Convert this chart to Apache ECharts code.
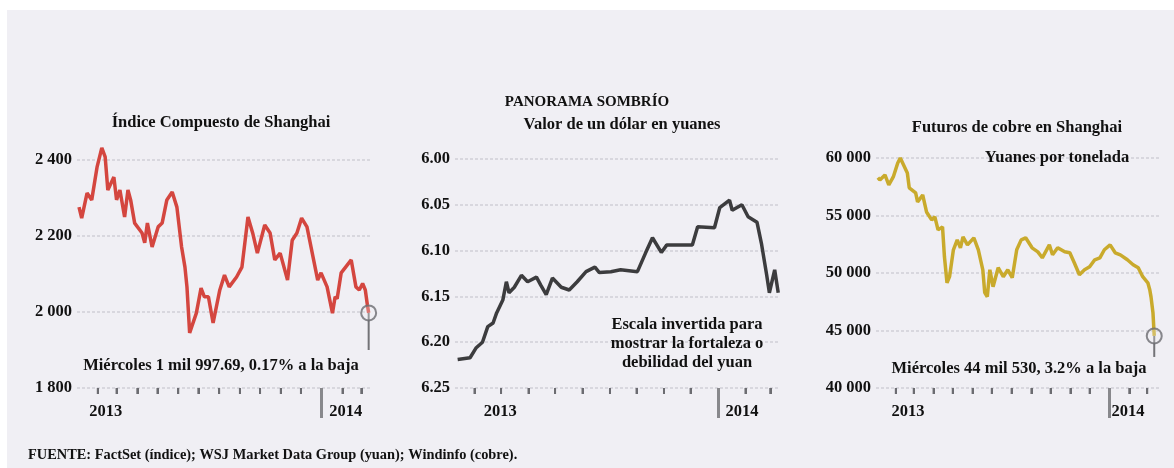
<!DOCTYPE html>
<html><head><meta charset="utf-8">
<script src="https://cdn.jsdelivr.net/npm/echarts@6/dist/echarts.min.js"></script>
<style>html,body{margin:0;padding:0;background:#fff}#c{width:1174px;height:468px}</style>
</head><body><div id="c"></div><script>
// ---------- Shanghai Composite ----------
const shDates = ['2013-01-04','2013-01-08','2013-01-16','2013-01-23','2013-01-31','2013-02-07','2013-02-12','2013-02-16','2013-02-25','2013-03-01','2013-03-06','2013-03-13','2013-03-18','2013-03-22','2013-03-28','2013-04-08','2013-04-12','2013-04-16','2013-04-23','2013-05-02','2013-05-08','2013-05-15','2013-05-23','2013-05-30','2013-06-06','2013-06-11','2013-06-14','2013-06-18','2013-06-28','2013-07-05','2013-07-10','2013-07-16','2013-07-23','2013-08-02','2013-08-09','2013-08-16','2013-08-27','2013-09-04','2013-09-13','2013-09-20','2013-09-27','2013-10-08','2013-10-16','2013-10-23','2013-10-31','2013-11-11','2013-11-18','2013-11-25','2013-12-02','2013-12-10','2013-12-19','2013-12-26','2013-12-31','2014-01-09','2014-01-17','2014-01-21','2014-01-24','2014-01-30','2014-02-14','2014-02-21','2014-02-26','2014-03-03','2014-03-07','2014-03-10','2014-03-12'];
const shValues = [2276,2247,2313,2295,2382,2432,2408,2321,2355,2295,2321,2250,2321,2295,2234,2208,2182,2234,2171,2224,2234,2295,2316,2276,2171,2118,2066,1945,1997,2063,2040,2040,1971,2058,2097,2066,2092,2118,2250,2208,2155,2229,2208,2137,2155,2084,2189,2208,2247,2224,2145,2084,2103,2066,1997,2040,2035,2103,2137,2066,2058,2075,2058,2020,1997.69];
const shPinBottom = 1900;
const shYTicks = {min:1800, max:2400, interval:200};

// ---------- USD / CNY ----------
const fxDates = ['2013-03-13','2013-03-27','2013-04-03','2013-04-10','2013-04-16','2013-04-22','2013-04-26','2013-05-03','2013-05-07','2013-05-10','2013-05-16','2013-05-24','2013-05-31','2013-06-10','2013-06-15','2013-06-21','2013-06-28','2013-07-08','2013-07-17','2013-07-26','2013-08-05','2013-08-15','2013-08-20','2013-09-02','2013-09-13','2013-10-02','2013-10-11','2013-10-19','2013-10-29','2013-11-04','2013-12-03','2013-12-09','2013-12-28','2014-01-03','2014-01-14','2014-01-17','2014-01-28','2014-02-04','2014-02-14','2014-02-19','2014-02-25','2014-02-28','2014-03-06','2014-03-10'];
const fxValues = [6.219,6.217,6.206,6.200,6.183,6.179,6.168,6.154,6.134,6.146,6.140,6.127,6.134,6.129,6.138,6.148,6.130,6.140,6.143,6.134,6.123,6.118,6.124,6.123,6.121,6.123,6.103,6.086,6.102,6.094,6.094,6.074,6.075,6.053,6.045,6.056,6.050,6.063,6.069,6.092,6.127,6.146,6.121,6.146];
const fxYTicks = {min:6.00, max:6.25, interval:0.05};

// ---------- Copper futures ----------
const cuDates = ['2013-01-04','2013-01-07','2013-01-15','2013-01-21','2013-01-28','2013-02-04','2013-02-08','2013-02-19','2013-02-22','2013-03-04','2013-03-07','2013-03-15','2013-03-21','2013-03-29','2013-04-03','2013-04-08','2013-04-15','2013-04-18','2013-04-22','2013-04-26','2013-05-02','2013-05-08','2013-05-13','2013-05-17','2013-05-24','2013-06-03','2013-06-10','2013-06-17','2013-06-20','2013-06-24','2013-06-28','2013-07-03','2013-07-11','2013-07-19','2013-07-26','2013-08-02','2013-08-09','2013-08-16','2013-08-23','2013-09-02','2013-09-11','2013-09-18','2013-09-29','2013-10-04','2013-10-12','2013-10-23','2013-10-31','2013-11-07','2013-11-15','2013-11-23','2013-12-01','2013-12-09','2013-12-17','2013-12-24','2014-01-02','2014-01-10','2014-01-18','2014-01-29','2014-02-07','2014-02-15','2014-02-22','2014-03-02','2014-03-05','2014-03-07','2014-03-10','2014-03-12'];
const cuValues = [58300,58090,58525,57660,58350,59570,60000,58700,57400,56960,56180,56790,55310,54620,54880,53750,54010,51410,49150,49680,52020,52880,52190,53150,52450,53060,52020,50280,48290,47940,50280,48810,50460,49680,50280,49590,52020,52880,53060,52190,51840,51320,52450,51580,52190,51840,51760,50890,49850,50280,50540,51150,51320,52020,52450,51760,51580,51150,50720,50460,49680,49150,48550,47900,46550,44530];
const cuPinBottom = 42700;
const cuYTicks = {min:40000, max:60000, interval:5000};

// ---------- Axis ticks / labels ----------
const monthTicksA = ['2013-02-01','2013-03-01','2013-04-01','2013-05-01','2013-06-01','2013-07-01','2013-08-01','2013-09-01','2013-10-01','2013-11-01','2013-12-01','2014-02-01','2014-03-01'];
const monthTicksB = ['2013-04-01','2013-05-01','2013-06-01','2013-07-01','2013-08-01','2013-09-01','2013-10-01','2013-11-01','2013-12-01','2014-02-01','2014-03-01'];
const monthTicksC = ['2013-02-01','2013-03-01','2013-04-01','2013-05-01','2013-06-01','2013-07-01','2013-08-01','2013-09-01','2013-10-01','2013-11-01','2013-12-01','2014-02-01','2014-03-01'];
const yearBoundary = ['2014-01-01'];
const yearLabelsA = ['2013-02-13','2014-02-06'];
const yearLabelsB = ['2013-04-30','2014-01-28'];
const yearLabelsC = ['2013-02-20','2014-01-30'];
const rangeA = ['2013-01-01','2014-03-14'];
const rangeB = ['2013-03-10','2014-03-12'];
const rangeC = ['2013-01-01','2014-03-21'];

const texts = {
  main: 'PANORAMA SOMBRÍO',
  t1: 'Índice Compuesto de Shanghai',
  t2: 'Valor de un dólar en yuanes',
  t3: 'Futuros de cobre en Shanghai',
  a1: 'Miércoles 1 mil 997.69, 0.17% a la baja',
  a2: ['Escala invertida para','mostrar la fortaleza o','debilidad del yuan'],
  a3: 'Miércoles 44 mil 530, 3.2% a la baja',
  unit3: 'Yuanes por tonelada',
  source: 'FUENTE: FactSet (índice); WSJ Market Data Group (yuan); Windinfo (cobre).'
};

function d(s){const p=s.split('-').map(Number);return new Date(p[0],p[1]-1,p[2]).getTime();}
const FONT = '"Liberation Serif","Times New Roman",serif';
const BG = '#f0eff4';
const FS = 16.5;
const TICK = '#6c6c71';
const TICK_PX = 6;
function thou(v){return String(v).replace(/\B(?=(\d{3})+(?!\d))/g,' ');}

const GRIDS = [
  {left:77, width:293, top:160, height:228},
  {left:455, width:325, top:159, height:229},
  {left:876, width:284, top:158, height:230}
];

const chart = echarts.init(document.getElementById('c'));

function xAxes(grid, range, labels, ticks){
  const base = {type:'value', gridIndex:grid, min:d(range[0]), max:d(range[1]), position:'bottom',
    axisLine:{show:false}, splitLine:{show:false}};
  return [
    Object.assign({}, base, {
      axisTick:{show:true, interval:0, customValues:ticks.map(d), length:TICK_PX, lineStyle:{color:TICK, width:2}},
      axisLabel:{show:true, customValues:labels.map(d), formatter:v=>String(new Date(v).getFullYear()),
        margin:15, color:'#111', fontFamily:FONT, fontWeight:'bold', fontSize:FS}
    }),
    Object.assign({}, base, {
      axisLabel:{show:false},
      axisTick:{show:true, interval:0, customValues:yearBoundary.map(d), length:30, lineStyle:{color:'#88888c', width:3}}
    })
  ];
}
function yAxis(grid, t, fmt, inverse){
  return {type:'value', gridIndex:grid, min:t.min, max:t.max, interval:t.interval, inverse:!!inverse,
    axisLine:{show:false}, axisTick:{show:false},
    splitLine:{show:true, lineStyle:{color:'#d0d0d6', width:1.5, type:[3,2]}},
    axisLabel:{formatter:fmt, margin:5, color:'#111', fontFamily:FONT, fontWeight:'bold', fontSize:FS}};
}
function pair(dates, vals){return dates.map((t,i)=>[d(t), vals[i]]);}
function lineSeries(xi, yi, data, color){
  return {type:'line', xAxisIndex:xi, yAxisIndex:yi, data, symbol:'none', clip:false,
    lineStyle:{color, width:3.5}, itemStyle:{color}, z:2, animation:false};
}
// month ticks as short broken line segments hanging under the baseline
function monthTickSeries(xi, yi, gi, ticks, t, inverse){
  const base = inverse ? t.max : t.min;
  const len = TICK_PX * (t.max - t.min) / GRIDS[gi].height * (inverse ? 1 : -1);
  const data = [];
  ticks.forEach(s => { const x = d(s); data.push([x, base], [x, base + len], [x, null]); });
  return {type:'line', xAxisIndex:xi, yAxisIndex:yi, data, symbol:'none', connectNulls:false,
    lineStyle:{color:TICK, width:2}, z:6, silent:true, animation:false, clip:false};
}
function pin(xi, yi, date, val, bottom){
  return [
    {type:'line', xAxisIndex:xi, yAxisIndex:yi, data:[[d(date),val],[d(date),bottom]], symbol:'none',
      lineStyle:{color:'#737377', width:2}, z:3, animation:false, clip:false},
    {type:'scatter', xAxisIndex:xi, yAxisIndex:yi, data:[[d(date),val]], symbol:'circle', symbolSize:15,
      itemStyle:{color:'rgba(240,239,244,0.35)', borderColor:'#6c6c70', borderWidth:2}, z:4, animation:false, clip:false}
  ];
}
function txt(x, y, s, size, align){
  return {type:'text', x, y, silent:true, z:10,
    style:{text:s, fill:'#111', font:'bold '+size+'px '+FONT, align:align||'center', verticalAlign:'middle'}};
}

const shLast = shDates.length-1, cuLast = cuDates.length-1;

chart.setOption({
  backgroundColor:'#ffffff',
  animation:false,
  grid:GRIDS,
  xAxis:[].concat(
    xAxes(0, rangeA, yearLabelsA, monthTicksA),
    xAxes(1, rangeB, yearLabelsB, monthTicksB),
    xAxes(2, rangeC, yearLabelsC, monthTicksC)
  ),
  yAxis:[
    yAxis(0, shYTicks, v=>thou(v)),
    yAxis(1, fxYTicks, v=>v.toFixed(2), true),
    yAxis(2, cuYTicks, v=>thou(v))
  ],
  series:[].concat(
    [lineSeries(0,0,pair(shDates,shValues),'#d4463f')],
    pin(0,0,shDates[shLast],shValues[shLast],shPinBottom),
    [lineSeries(2,1,pair(fxDates,fxValues),'#3c3c3e')],
    [lineSeries(4,2,pair(cuDates,cuValues),'#c9aa2c')],
    pin(4,2,cuDates[cuLast],cuValues[cuLast],cuPinBottom),
    [monthTickSeries(0,0,0,monthTicksA,shYTicks,false)],
    [monthTickSeries(2,1,1,monthTicksB,fxYTicks,true)],
    [monthTickSeries(4,2,2,monthTicksC,cuYTicks,false)]
  ),
  graphic:[
    {type:'rect', silent:true, z:-100, shape:{x:7,y:10,width:1167,height:458}, style:{fill:BG}},
    txt(587,102,texts.main,15),
    txt(221,123,texts.t1,FS),
    txt(622,125,texts.t2,FS),
    txt(1017,128,texts.t3,FS),
    txt(1057,158,texts.unit3,FS),
    txt(221,366,texts.a1,FS),
    txt(687,325,texts.a2[0],FS),
    txt(687,344,texts.a2[1],FS),
    txt(687,363,texts.a2[2],FS),
    txt(1019,369,texts.a3,FS),
    txt(28,455,texts.source,14.4,'left')
  ]
});
</script></body></html>
